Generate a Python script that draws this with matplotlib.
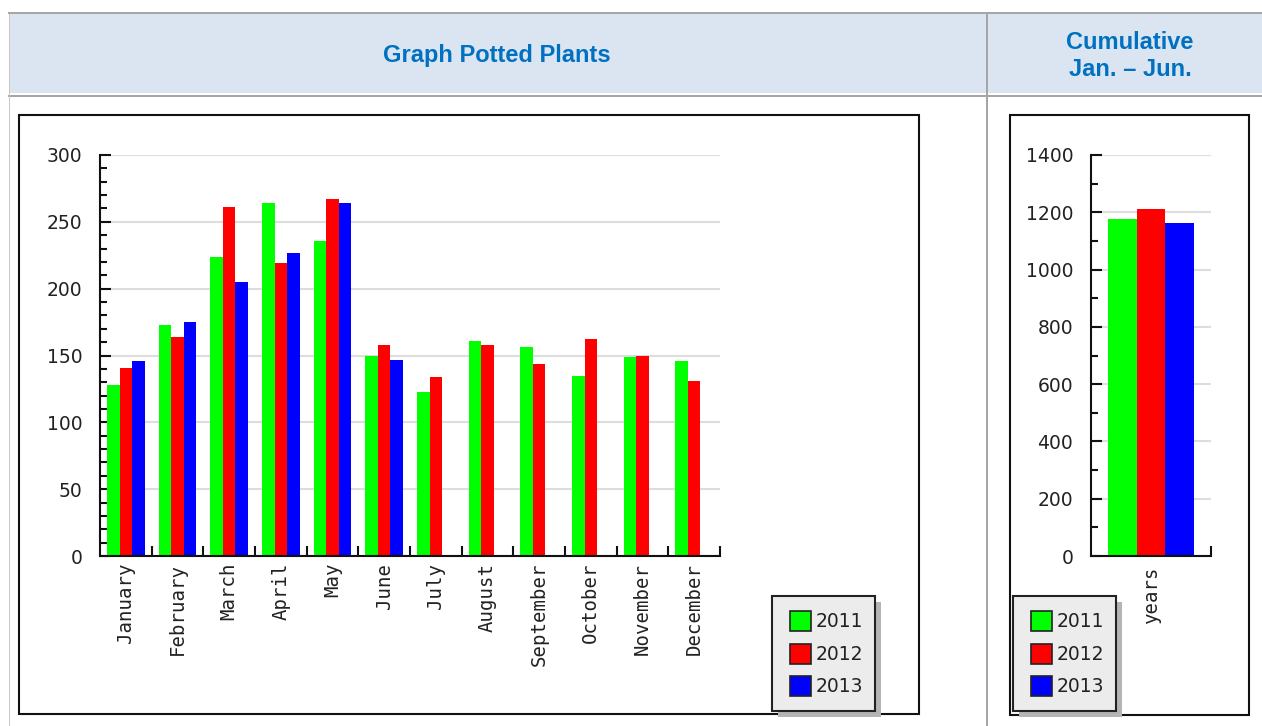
import numpy as np
import matplotlib.pyplot as plt
from matplotlib.patches import Rectangle, Patch
from matplotlib.legend_handler import HandlerPatch
from matplotlib.ticker import MultipleLocator

months = ['January', 'February', 'March', 'April', 'May', 'June',
          'July', 'August', 'September', 'October', 'November', 'December']
years = ['2011', '2012', '2013']
colors = ['#00ff00', '#ff0000', '#0000ff']

v2011 = [128, 173, 224, 264, 236, 150, 123, 161, 156, 135, 149, 146]
v2012 = [141, 164, 261, 219, 267, 158, 134, 158, 144, 162, 150, 131]
v2013 = [146, 175, 205, 227, 264, 147, np.nan, np.nan, np.nan, np.nan, np.nan, np.nan]
cumulative = [1175, 1210, 1164]   # Jan - Jun per year

W, H = 1262, 726
def fx(px):
    return px / W
def fy(py):
    return 1 - py / H

fig = plt.figure(figsize=(W / 100, H / 100), dpi=100)
fig.patch.set_facecolor('white')

# page / table decoration (behind the axes)
def rect(x0, y0, x1, y1, **kw):
    fig.add_artist(Rectangle((fx(x0), fy(y1)), fx(x1) - fx(x0), fy(y0) - fy(y1),
                             transform=fig.transFigure, zorder=-10, **kw))

rect(10, 14, 1262, 93, facecolor='#dbe5f1', edgecolor='none')
rect(8, 12, 1262, 14, facecolor='#a6a6a6', edgecolor='none')
rect(8, 95, 1262, 97, facecolor='#a6a6a6', edgecolor='none')
rect(985.5, 14, 988, 726, facecolor='#a6a6a6', edgecolor='none')
rect(8.5, 14, 9.5, 726, facecolor='#c8c8c8', edgecolor='none')
rect(18.5, 115, 919, 714, facecolor='white', edgecolor='#111111', linewidth=1.5)
rect(1010, 115, 1249, 715, facecolor='white', edgecolor='#111111', linewidth=1.5)

hdr = dict(ha='center', va='baseline', fontsize=17, fontweight='bold',
           family='Liberation Sans', color='#0070c0')
fig.text(fx(497), fy(62), 'Graph Potted Plants', **hdr)
fig.text(fx(1130), fy(49), 'Cumulative', **hdr)
fig.text(fx(1130), fy(76), 'Jan. \u2013 Jun.', **hdr)

series = [v2011, v2012, v2013]
handles = [Patch(facecolor=c, edgecolor='#222222', linewidth=1.2) for c in colors]


def square_patch(legend, orig_handle, xdescent, ydescent, width, height, fontsize):
    # square pushed to the right end of the handle box
    side = fontsize * 20 / 18.75
    return Rectangle((-xdescent + width - side * 1.05, -ydescent + (height - side) / 2),
                     side * 1.05, side)


def style_axes(ax):
    ax.set_facecolor('none')
    for s in ['top', 'right']:
        ax.spines[s].set_visible(False)
    for s in ['left', 'bottom']:
        ax.spines[s].set_linewidth(1.5)
        ax.spines[s].set_color('#111111')
    ax.set_axisbelow(True)
    ax.yaxis.grid(True, which='major', color='#dddddd', linewidth=1.5)
    ax.tick_params(axis='y', which='major', direction='in', length=8, width=1.5,
                   color='#111111', labelsize=13.5, labelcolor='#222222', pad=12.8)
    ax.tick_params(axis='y', which='minor', direction='in', length=5, width=1.5,
                   color='#111111')
    ax.tick_params(axis='x', which='major', direction='in', length=7.5, width=1.5,
                   color='#111111', labelbottom=False)


def add_legend(ax, x, y):
    leg = ax.legend(handles, years, loc='upper left', bbox_to_anchor=(fx(x), fy(y)),
                    bbox_transform=fig.transFigure, borderaxespad=0, fancybox=False,
                    framealpha=1, facecolor='#ececec', edgecolor='#222222',
                    prop={'family': 'DejaVu Sans', 'size': 13.5},
                    handler_map={Patch: HandlerPatch(patch_func=square_patch)},
                    handlelength=1.44, handleheight=1.757, handletextpad=0.21,
                    labelspacing=0.33, borderpad=0.66,
                    shadow={'ox': 4.3, 'oy': -4.3, 'facecolor': '#b4b4b4',
                            'edgecolor': 'none', 'alpha': 1})
    leg.get_frame().set_linewidth(1.5)
    for t in leg.get_texts():
        t.set_color('#222222')


# monthly chart
ax = fig.add_axes([fx(100), fy(556), fx(720) - fx(100), fy(155) - fy(556)])
centers = np.arange(len(months)) + 0.5
bw = 0.245
for k, vals in enumerate(series):
    ax.bar(centers + (k - 1) * bw, vals, width=bw, color=colors[k], linewidth=0)
ax.set_xlim(0, 12)
ax.set_ylim(0, 300)
ax.yaxis.set_major_locator(MultipleLocator(50))
ax.yaxis.set_minor_locator(MultipleLocator(10))
ax.set_xticks(np.arange(1, 13))
ax.set_xticks(centers, months, minor=True, rotation=90,
              family='DejaVu Sans Mono', fontsize=13.7, color='#222222')
style_axes(ax)
ax.tick_params(axis='x', which='minor', length=0, pad=5)
add_legend(ax, 772, 596)

# cumulative chart
ax2 = fig.add_axes([fx(1091), fy(556), fx(1211) - fx(1091), fy(155) - fy(556)])
bw2 = 0.237
for k, val in enumerate(cumulative):
    ax2.bar(0.5 + (k - 1) * bw2, val, width=bw2, color=colors[k], linewidth=0)
ax2.set_xlim(0, 1)
ax2.set_ylim(0, 1400)
ax2.yaxis.set_major_locator(MultipleLocator(200))
ax2.yaxis.set_minor_locator(MultipleLocator(100))
ax2.set_xticks([1])
ax2.set_xticks([0.5], ['years'], minor=True, rotation=90,
               family='DejaVu Sans Mono', fontsize=13.7, color='#222222')
style_axes(ax2)
ax2.tick_params(axis='x', which='minor', length=0, pad=6.5)
add_legend(ax2, 1013, 596)

fig.savefig('out.png', dpi=100)
